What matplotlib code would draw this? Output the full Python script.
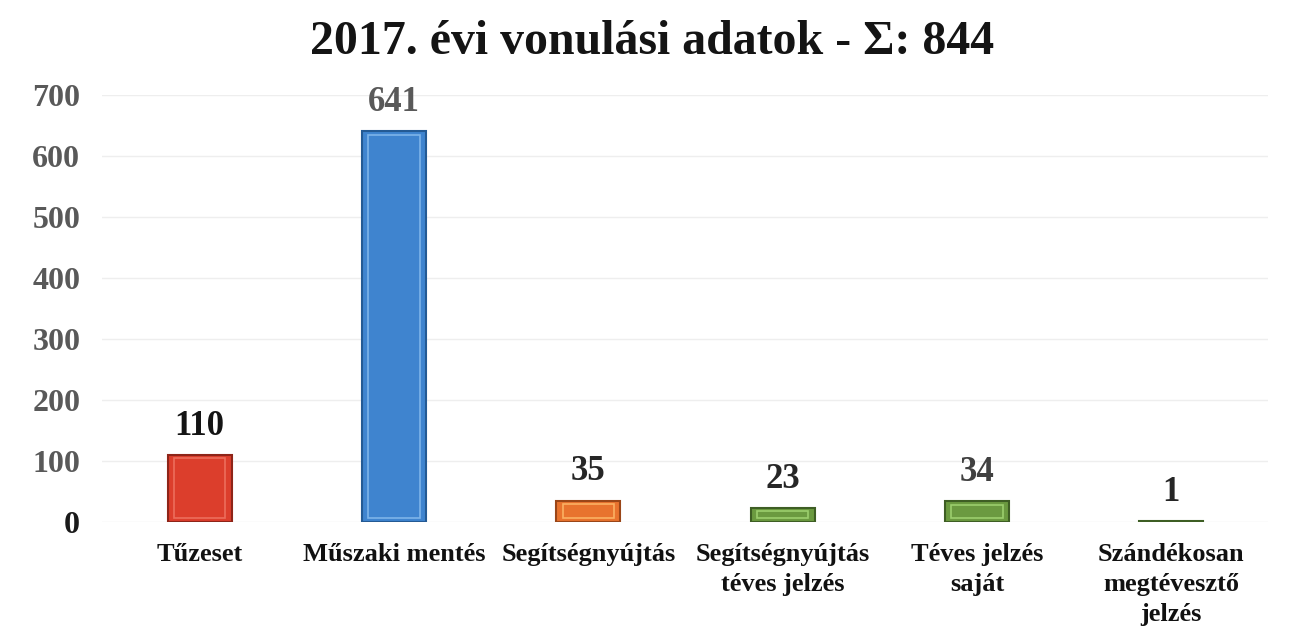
import numpy as np
import matplotlib.pyplot as plt

categories = ['Tűzeset', 'Műszaki mentés', 'Segítségnyújtás',
              'Segítségnyújtás\ntéves jelzés', 'Téves jelzés\nsaját',
              'Szándékosan\nmegtévesztő\njelzés']
values = [110, 641, 35, 23, 34, 1]
bar_colors = ['#dc3e2c', '#3f84cf', '#e8732e', '#6b9a40', '#6b9a40', '#6b9a40']
edge_colors = ['#8e2418', '#245a94', '#9a4618', '#3e5e24', '#3e5e24', '#3e5e24']
light_colors = ['#f07a68', '#8cc0f0', '#ffc070', '#a8dc78', '#a8dc78', '#a8dc78']
label_colors = ['#141414', '#595959', '#262626', '#262626', '#404040', '#262626']
yticks = [0, 100, 200, 300, 400, 500, 600, 700]
title = '2017. évi vonulási adatok - Σ: 844'

plt.rcParams['font.family'] = ['Liberation Serif', 'DejaVu Serif']
plt.rcParams['font.weight'] = 'bold'

fig = plt.figure(figsize=(12.97, 6.38), dpi=100)
ax = fig.add_axes([0.079, 0.182, 0.899, 0.669])

x = np.arange(len(categories))
w = 0.33
ax.bar(x, values, width=w, color=bar_colors, edgecolor=edge_colors,
       linewidth=1.5, zorder=3)
# bevel highlight
for xi, v, lc in zip(x, values, light_colors):
    if v < 3:
        continue
    inset = min(6, v * 0.25)
    ax.bar(xi, v - 2 * inset, width=w * 0.8, bottom=inset,
           color='none', edgecolor=lc, linewidth=1.2, alpha=0.8, zorder=4)

for xi, v, c in zip(x, values, label_colors):
    ax.text(xi, v + 20, str(v), ha='center', va='bottom', fontsize=25,
            fontweight='bold', color=c, clip_on=False)

ax.set_xlim(-0.5, len(categories) - 0.5)
ax.set_ylim(0, 700)
ax.set_yticks(yticks)
ax.set_yticklabels([str(t) for t in yticks], fontsize=23, color='#595959',
                   fontweight='bold')
ax.get_yticklabels()[0].set_color('#1a1a1a')
ax.set_xticks(x)
ax.set_xticklabels(categories, fontsize=19, fontweight='bold', color='#111111',
                   linespacing=1.4, va='top')
ax.tick_params(axis='both', length=0)
ax.tick_params(axis='x', pad=15)
ax.tick_params(axis='y', pad=16)
ax.grid(axis='y', color='#eeeeee', linewidth=1, zorder=0)
for s in ax.spines.values():
    s.set_visible(False)

fig.text(0.503, 0.934, title, ha='center', va='center', fontsize=34.5,
         fontweight='bold', color='#141414')

fig.savefig('out.png', dpi=100, facecolor='white')
